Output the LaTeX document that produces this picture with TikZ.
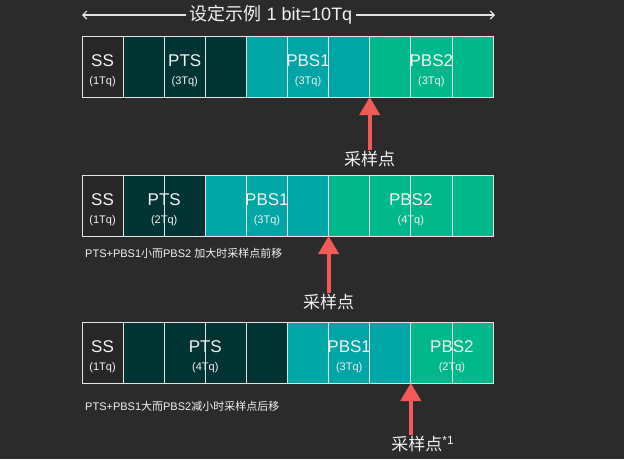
\documentclass[tikz,border=0pt]{standalone}
\usepackage{fontspec}
\setmainfont{Liberation Sans}
\newfontfamily\cjk{Noto Sans CJK SC}
\usetikzlibrary{arrows.meta, positioning}

\definecolor{bgc}{HTML}{2B2B2B}
\definecolor{ssc}{HTML}{272727}
\definecolor{ptsc}{HTML}{033434}
\definecolor{pbsac}{HTML}{00A5A5}
\definecolor{pbsbc}{HTML}{00B889}
\definecolor{linec}{HTML}{E4E4E4}
\definecolor{txtc}{HTML}{F2F2F2}
\definecolor{sampc}{HTML}{F25A5A}
\newcommand\tqfont{\fontsize{11}{13}\selectfont}

\begin{document}
\begin{tikzpicture}[
        x=1pt, y=-1pt,
        every node/.style={text=txtc},
        cell/.style={rectangle, draw=linec, line width=0.8pt, minimum width=41.1pt, minimum height=61pt, inner sep=0pt, outer sep=0pt},
        ss/.style={cell, fill=ssc},
        pts/.style={cell, fill=ptsc},
        pbsa/.style={cell, fill=pbsac},
        pbsb/.style={cell, fill=pbsbc},
        lbl/.style={align=center, font=\fontsize{17}{18}\selectfont, inner sep=0pt, yshift=-4pt},
        note/.style={font=\fontsize{11}{13}\selectfont, inner sep=0pt},
        slbl/.style={font=\fontsize{17}{19}\selectfont\cjk, inner sep=1pt},
        samp/.style={-{Triangle[width=20pt, length=18pt]}, line width=4pt, draw=sampc},
        dim/.style={-{Straight Barb[length=4pt, width=8pt]}, line width=1.1pt, draw=linec}
    ]

    \fill[bgc] (0,0) rectangle (624,459);

    \node[font=\fontsize{18}{20}\selectfont, inner sep=4pt] (T) at (271,15) {{\cjk 设定示例} 1 bit=10Tq};
    \coordinate (TL) at (82,15);
    \coordinate (TR) at (495,15);
    \draw[dim] (T) -- (TL);
    \draw[dim] (T) -- (TR);

    \node[ss, anchor=north west] (A1) at (82,36) {};
    \node[pts] (A2) [right=0pt of A1] {};
    \node[pts] (A3) [right=0pt of A2] {};
    \node[pts] (A4) [right=0pt of A3] {};
    \node[pbsa] (A5) [right=0pt of A4] {};
    \node[pbsa] (A6) [right=0pt of A5] {};
    \node[pbsa] (A7) [right=0pt of A6] {};
    \node[pbsb] (A8) [right=0pt of A7] {};
    \node[pbsb] (A9) [right=0pt of A8] {};
    \node[pbsb] (A10) [right=0pt of A9] {};

    \node[lbl] at (A1) {SS\\{\tqfont (1Tq)}};
    \node[lbl] at (A3) {PTS\\{\tqfont (3Tq)}};
    \node[lbl] at (A6) {PBS1\\{\tqfont (3Tq)}};
    \node[lbl] at (A9) {PBS2\\{\tqfont (3Tq)}};

    \node[slbl] (P1) [below=53pt of A7.south east] {采样点};
    \draw[samp] (P1) -- (A7.south east);

    \node[ss, anchor=north west] (B1) at (82,175) {};
    \node[pts] (B2) [right=0pt of B1] {};
    \node[pts] (B3) [right=0pt of B2] {};
    \node[pbsa] (B4) [right=0pt of B3] {};
    \node[pbsa] (B5) [right=0pt of B4] {};
    \node[pbsa] (B6) [right=0pt of B5] {};
    \node[pbsb] (B7) [right=0pt of B6] {};
    \node[pbsb] (B8) [right=0pt of B7] {};
    \node[pbsb] (B9) [right=0pt of B8] {};
    \node[pbsb] (B10) [right=0pt of B9] {};

    \node[lbl] at (B1) {SS\\{\tqfont (1Tq)}};
    \node[lbl] at (B2.east) {PTS\\{\tqfont (2Tq)}};
    \node[lbl] at (B5) {PBS1\\{\tqfont (3Tq)}};
    \node[lbl] at (B8.east) {PBS2\\{\tqfont (4Tq)}};

    \node[note, below right=12pt and 3pt of B1.south west] {PTS+PBS1{\cjk 小而}PBS2 {\cjk 加大时采样点前移}};

    \node[slbl] (P2) [below=57pt of B6.south east] {采样点};
    \draw[samp] (P2) -- (B6.south east);

    \node[ss, anchor=north west] (C1) at (82,322) {};
    \node[pts] (C2) [right=0pt of C1] {};
    \node[pts] (C3) [right=0pt of C2] {};
    \node[pts] (C4) [right=0pt of C3] {};
    \node[pts] (C5) [right=0pt of C4] {};
    \node[pbsa] (C6) [right=0pt of C5] {};
    \node[pbsa] (C7) [right=0pt of C6] {};
    \node[pbsa] (C8) [right=0pt of C7] {};
    \node[pbsb] (C9) [right=0pt of C8] {};
    \node[pbsb] (C10) [right=0pt of C9] {};

    \node[lbl] at (C1) {SS\\{\tqfont (1Tq)}};
    \node[lbl] at (C3.east) {PTS\\{\tqfont (4Tq)}};
    \node[lbl] at (C7) {PBS1\\{\tqfont (3Tq)}};
    \node[lbl] at (C9.east) {PBS2\\{\tqfont (2Tq)}};

    \node[note, below right=18pt and 3pt of C1.south west] {PTS+PBS1{\cjk 大而}PBS2{\cjk 减小时采样点后移}};

    \node[slbl] (P3) [below=52pt of C8.south east, xshift=12pt] {采样点\textsuperscript{\rmfamily *1}};
    \draw[samp] (C8.south east |- P3.north) -- (C8.south east);
    \end{tikzpicture}
\end{document}
